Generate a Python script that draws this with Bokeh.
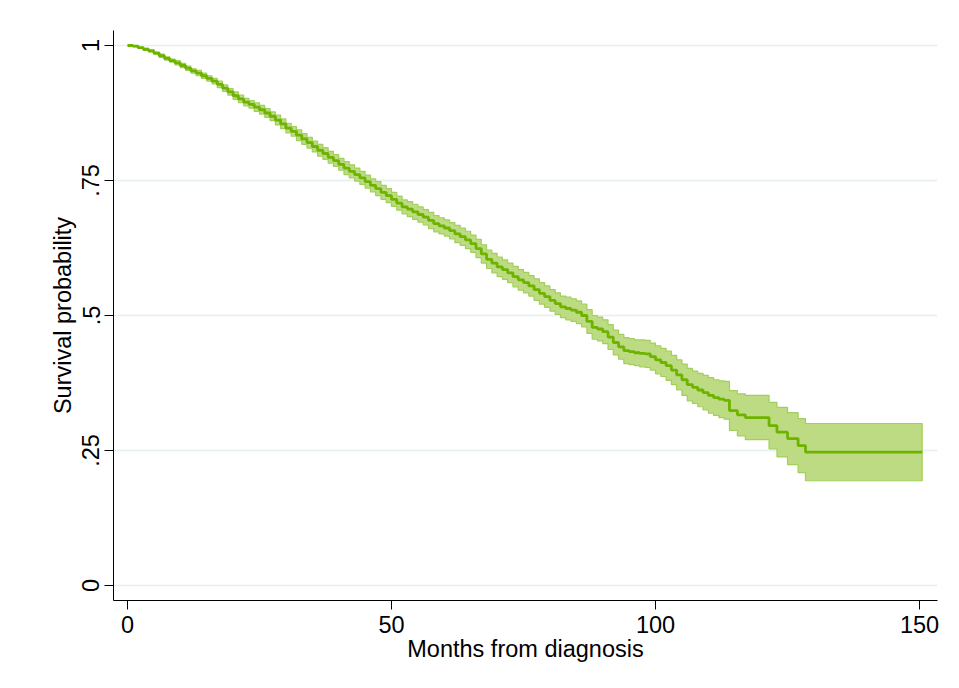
from bokeh.plotting import figure
from bokeh.models import Range1d, FixedTicker
from bokeh.embed import file_html
from bokeh.resources import INLINE

# Kaplan-Meier estimate (months, survival, CI half-width)
months = list(range(0, 113)) + [113, 114, 115.5, 117, 121.5, 123, 125, 127, 128.4, 150.5]
survival = [
    1.000, 0.999, 0.996, 0.993, 0.990, 0.986, 0.981, 0.976, 0.972, 0.968,
    0.963, 0.958, 0.953, 0.949, 0.944, 0.939, 0.934, 0.928, 0.921, 0.914,
    0.907, 0.901, 0.895, 0.891, 0.886, 0.881, 0.875, 0.869, 0.862, 0.855,
    0.847, 0.841, 0.834, 0.827, 0.820, 0.813, 0.806, 0.800, 0.793, 0.787,
    0.780, 0.773, 0.767, 0.761, 0.755, 0.748, 0.741, 0.735, 0.728, 0.722,
    0.715, 0.708, 0.701, 0.697, 0.692, 0.687, 0.682, 0.676, 0.670, 0.666,
    0.662, 0.657, 0.651, 0.646, 0.640, 0.633, 0.624, 0.614, 0.604, 0.597,
    0.590, 0.585, 0.579, 0.572, 0.566, 0.561, 0.555, 0.548, 0.541, 0.535,
    0.528, 0.522, 0.516, 0.513, 0.510, 0.506, 0.500, 0.489, 0.478, 0.475,
    0.470, 0.460, 0.450, 0.442, 0.435, 0.433, 0.431, 0.430, 0.429, 0.424,
    0.418, 0.413, 0.407, 0.399, 0.390, 0.381, 0.372, 0.367, 0.362, 0.357,
    0.352, 0.348, 0.345,
    0.343, 0.324, 0.316, 0.311, 0.296, 0.284, 0.272, 0.259, 0.247, 0.247]
ci_half = [
    0.000, 0.001, 0.001, 0.002, 0.002, 0.002, 0.003, 0.003, 0.003, 0.004,
    0.004, 0.004, 0.004, 0.005, 0.005, 0.005, 0.005, 0.006, 0.006, 0.006,
    0.007, 0.007, 0.007, 0.007, 0.008, 0.008, 0.008, 0.008, 0.009, 0.009,
    0.009, 0.009, 0.010, 0.010, 0.010, 0.010, 0.011, 0.011, 0.011, 0.011,
    0.011, 0.012, 0.012, 0.012, 0.012, 0.012, 0.012, 0.013, 0.013, 0.013,
    0.013, 0.013, 0.013, 0.014, 0.014, 0.014, 0.014, 0.015, 0.015, 0.015,
    0.015, 0.015, 0.016, 0.016, 0.016, 0.016, 0.017, 0.017, 0.017, 0.018,
    0.018, 0.018, 0.018, 0.019, 0.019, 0.019, 0.019, 0.020, 0.020, 0.020,
    0.020, 0.020, 0.020, 0.021, 0.021, 0.021, 0.021, 0.022, 0.022, 0.022,
    0.022, 0.023, 0.023, 0.023, 0.024, 0.024, 0.024, 0.025, 0.025, 0.025,
    0.026, 0.026, 0.027, 0.027, 0.028, 0.029, 0.030, 0.030, 0.031, 0.032,
    0.033, 0.033, 0.034,
    0.035, 0.037, 0.039, 0.041, 0.043, 0.046, 0.048, 0.050, 0.053, 0.053]
assert len(months) == len(survival) == len(ci_half)

x_ticks = [0, 50, 100, 150]
y_ticks = [0, 0.25, 0.5, 0.75, 1]
y_tick_labels = ["0", ".25", ".5", ".75", "1"]

FONT = "Liberation Sans"
FS = "23.5px"
LINE_COLOR = "#6db300"
BAND_FILL = "#bcdb82"
BAND_EDGE = "#a2cf5c"

ci_upper = [min(1.0, s + h) for s, h in zip(survival, ci_half)]
ci_lower = [s - h for s, h in zip(survival, ci_half)]


def step_xy(xs, ys):
    sx, sy = [], []
    for i in range(len(xs) - 1):
        sx += [xs[i], xs[i + 1]]
        sy += [ys[i], ys[i]]
    sx.append(xs[-1])
    sy.append(ys[-1])
    return sx, sy


ux, uy = step_xy(months, ci_upper)
lx, ly = step_xy(months, ci_lower)
band_x = ux + lx[::-1]
band_y = uy + ly[::-1]
sx, sy = step_xy(months, survival)

p = figure(width=948, height=680, output_backend="svg", toolbar_location=None,
           x_range=Range1d(-2.65, 153.4), y_range=Range1d(-0.0278, 1.0278),
           min_border_left=113, min_border_top=30, min_border_right=11,
           min_border_bottom=80)
p.outline_line_color = None
p.background_fill_color = "white"
p.border_fill_color = "white"

p.patch(band_x, band_y, fill_color=BAND_FILL, fill_alpha=1.0,
        line_color=BAND_EDGE, line_width=1.2)
p.line(sx, sy, line_color=LINE_COLOR, line_width=2.8)

p.xgrid.visible = False
p.ygrid.grid_line_color = "#e6eff0"
p.ygrid.grid_line_width = 1.3
p.ygrid.ticker = FixedTicker(ticks=y_ticks)

p.xaxis.ticker = FixedTicker(ticks=x_ticks)
p.yaxis.ticker = FixedTicker(ticks=y_ticks)
p.yaxis.major_label_overrides = {t: s for t, s in zip(y_ticks, y_tick_labels)}
p.yaxis.major_label_orientation = "vertical"

for ax in (p.xaxis[0], p.yaxis[0]):
    ax.axis_line_color = "black"
    ax.axis_line_width = 1
    ax.major_tick_line_color = "black"
    ax.major_tick_line_width = 1
    ax.major_tick_out = 9
    ax.major_tick_in = 0
    ax.minor_tick_line_color = None
    ax.major_label_text_font = FONT
    ax.major_label_text_font_size = FS
    ax.major_label_text_color = "black"
    ax.axis_label_text_font = FONT
    ax.axis_label_text_font_size = FS
    ax.axis_label_text_font_style = "normal"
    ax.axis_label_text_color = "black"

p.xaxis.axis_label = "Months from diagnosis"
p.yaxis.axis_label = "Survival probability"
p.xaxis.major_label_standoff = 6
p.xaxis.axis_label_standoff = 0
p.yaxis.major_label_standoff = 5
p.yaxis.axis_label_standoff = 4

open("out.html", "w").write(file_html(p, INLINE))
